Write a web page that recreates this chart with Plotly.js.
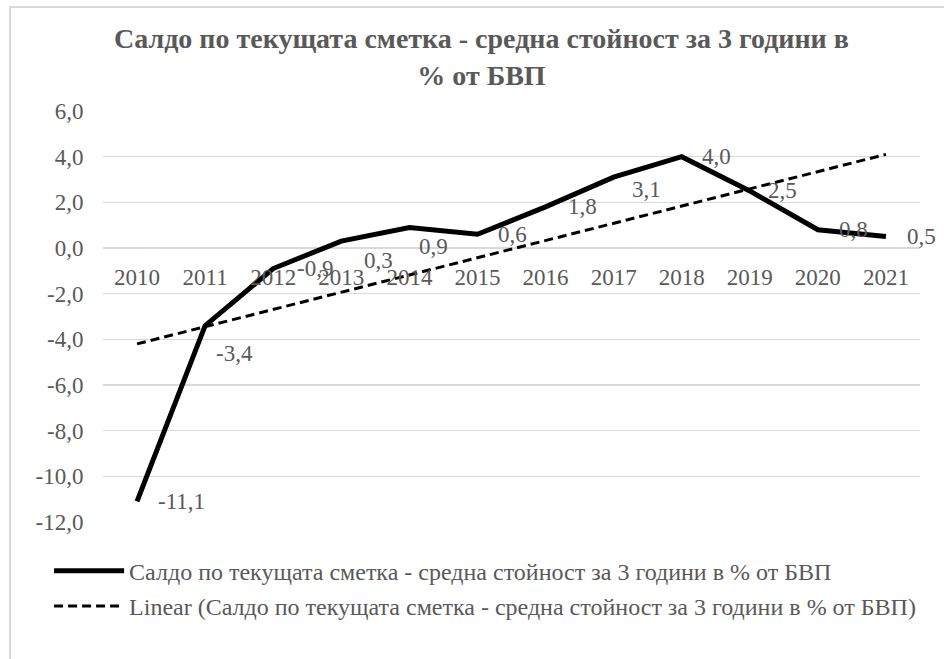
<!DOCTYPE html>
<html>
<head>
<meta charset="utf-8">
<script src="https://cdn.plot.ly/plotly-3.0.1.min.js"></script>
<style>
  html, body { margin: 0; padding: 0; background: #fff; }
  #frame { position: absolute; left: 9px; top: 6px; width: 1000px; height: 700px;
           border-left: 2px solid #d9d9d9; border-top: 2px solid #d9d9d9; box-sizing: border-box; }
  #chart { position: absolute; left: 0; top: 0; width: 944px; height: 659px; }
</style>
</head>
<body>
<div id="frame"></div>
<div id="chart"></div>
<script>
// ---- data ----
const years = ['2010','2011','2012','2013','2014','2015','2016','2017','2018','2019','2020','2021'];
const balance = [-11.1, -3.4, -0.9, 0.3, 0.9, 0.6, 1.8, 3.1, 4.0, 2.5, 0.8, 0.5];
const trendYears = ['2010', '2021'];
const trendValues = [-4.2, 4.1];
const yTickValues = [-12, -10, -8, -6, -4, -2, 0, 2, 4, 6];
const seriesName = 'Салдо по текущата сметка - средна стойност за 3 години в % от БВП';
const trendName = 'Linear (Салдо по текущата сметка - средна стойност за 3 години в % от БВП)';
const titleText = 'Салдо по текущата сметка - средна стойност за 3 години в<br>% от БВП';

// ---- label layout offsets (px) ----
const labelDx = [19, 9, 22, 21, 8, 19, 20, 16, 18, 16, 19, 19];
const labelDy = [0, 28, 0, 19, 19, 0, 0, 12, 0, 0, 0, 0];

const fontFam = '"Liberation Serif", "Times New Roman", serif';
const gray = '#595959';

const fmt = v => v.toFixed(1).replace('.', ',');

const traces = [
  {
    x: years, y: balance, type: 'scatter', mode: 'lines', name: seriesName,
    line: { color: '#000000', width: 5 }, legendgroup: 'a', hoverinfo: 'skip'
  },
  {
    x: trendYears, y: trendValues, type: 'scatter', mode: 'lines', name: trendName,
    line: { color: '#000000', width: 3, dash: '9px,5px' }, legendgroup: 'b', hoverinfo: 'skip'
  }
];

// category axis annotations use the category index
const annotations = years.map((yr, i) => ({
  x: years.indexOf(yr), y: balance[i], xref: 'x', yref: 'y', text: fmt(balance[i]),
  showarrow: false, xanchor: 'left', yanchor: 'middle', xshift: labelDx[i], yshift: -labelDy[i],
  font: { family: fontFam, size: 23, color: gray }
}));

const layout = {
  width: 944, height: 659,
  margin: { l: 103, r: 24, t: 111, b: 137 },
  paper_bgcolor: 'rgba(0,0,0,0)', plot_bgcolor: 'rgba(0,0,0,0)',
  title: {
    text: titleText, xref: 'container', x: 0.51, xanchor: 'center',
    yref: 'container', y: 0.927, yanchor: 'top',
    font: { family: fontFam, size: 28, color: gray, weight: 'bold' }
  },
  xaxis: {
    type: 'category', categoryorder: 'array', categoryarray: years,
    range: [-0.5, years.length - 0.5], anchor: 'free', position: 2/3,
    showgrid: false, zeroline: false, showline: false,
    ticks: 'outside', ticklen: 8, tickcolor: 'rgba(0,0,0,0)',
    tickfont: { family: fontFam, size: 23, color: gray }, fixedrange: true
  },
  yaxis: {
    range: [-12, 6], tickmode: 'array', tickvals: yTickValues, ticktext: yTickValues.map(fmt),
    showgrid: true, gridcolor: '#d9d9d9', gridwidth: 1.5,
    zeroline: false, showline: false, ticks: 'outside', ticklen: 14, tickcolor: 'rgba(0,0,0,0)',
    tickfont: { family: fontFam, size: 23, color: gray }, fixedrange: true
  },
  showlegend: true,
  legend: {
    orientation: 'v', x: -0.066, xanchor: 'left', y: -0.065, yanchor: 'top',
    itemwidth: 70, tracegroupgap: 1,
    font: { family: fontFam, size: 24, color: gray },
    bgcolor: 'rgba(0,0,0,0)'
  },
  annotations: annotations
};

Plotly.newPlot('chart', traces, layout, { displayModeBar: false, staticPlot: true });
</script>
</body>
</html>
